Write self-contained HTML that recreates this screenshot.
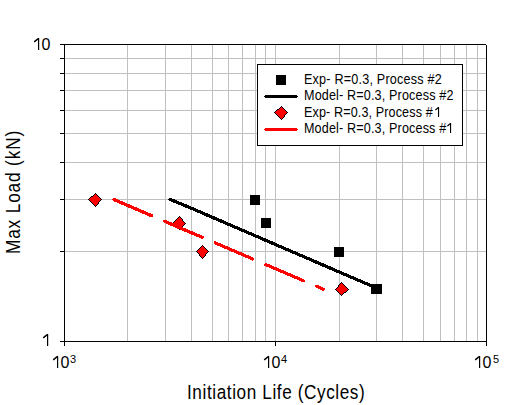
<!DOCTYPE html>
<html><head><meta charset="utf-8"><style>
html,body{margin:0;padding:0;background:#fff;width:525px;height:405px;overflow:hidden}
svg{display:block}
</style></head><body>
<svg width="525" height="405" viewBox="0 0 525 405">
<path d="M127.5 45V341M165.5 45V341M191.5 45V341M212.5 45V341M228.5 45V341M242.5 45V341M255.5 45V341M265.5 45V341M275.5 45V341M339.5 45V341M376.5 45V341M402.5 45V341M423.5 45V341M440.5 45V341M454.5 45V341M466.5 45V341M477.5 45V341M65 251.5H486M65 199.5H486M65 162.5H486M65 133.5H486M65 110.5H486M65 90.5H486M65 73.5H486M65 58.5H486" stroke="#c0c0c0" stroke-width="1" fill="none" shape-rendering="crispEdges"/>
<path d="M64.5 44V346M486.5 45V346M60 44.5H486M60 341.5H487M60 251.5H64M60 199.5H64M60 162.5H64M60 133.5H64M60 110.5H64M60 90.5H64M60 73.5H64M60 58.5H64M275.5 342V346" stroke="#000" stroke-width="1" fill="none" shape-rendering="crispEdges"/>
<rect x="250" y="195" width="10" height="10" fill="#000"/>
<rect x="261" y="218" width="10" height="10" fill="#000"/>
<rect x="334" y="247" width="10" height="10" fill="#000"/>
<rect x="371" y="284" width="11" height="10" fill="#000"/>
<polyline points="170,199.35 190.5,207.88 377,288.27" fill="none" stroke="#000" stroke-width="3.2" stroke-linecap="round" stroke-linejoin="round" shape-rendering="crispEdges"/>
<path d="M95 194h1v1h-1zM94 195h3v1h-3zM93 196h5v1h-5zM91 197h8v1h-8zM90 198h10v1h-10zM89 199h12v1h-12zM90 200h10v1h-10zM91 201h8v1h-8zM92 202h6v1h-6zM93 203h5v1h-5zM94 204h3v1h-3zM95 205h1v1h-1z" fill="#f00"/><path d="M95 193h1v1h-1zM94 194h1v1h-1zM96 194h1v1h-1zM93 195h1v1h-1zM97 195h1v1h-1zM91 196h1v1h-1zM92 196h1v1h-1zM98 196h1v1h-1zM90 197h1v1h-1zM99 197h1v1h-1zM89 198h1v1h-1zM100 198h1v1h-1zM88 199h1v1h-1zM101 199h1v1h-1zM89 200h1v1h-1zM100 200h1v1h-1zM90 201h1v1h-1zM99 201h1v1h-1zM91 202h1v1h-1zM98 202h1v1h-1zM92 203h1v1h-1zM98 203h1v1h-1zM93 204h1v1h-1zM97 204h1v1h-1zM94 205h1v1h-1zM96 205h1v1h-1zM95 206h1v1h-1z" fill="#000"/>
<path d="M179 217h1v1h-1zM178 218h3v1h-3zM177 219h5v1h-5zM176 220h6v1h-6zM175 221h8v1h-8zM174 222h10v1h-10zM173 223h12v1h-12zM174 224h10v1h-10zM175 225h8v1h-8zM177 226h5v1h-5zM178 227h3v1h-3zM179 228h1v1h-1z" fill="#f00"/><path d="M179 216h1v1h-1zM178 217h1v1h-1zM180 217h1v1h-1zM177 218h1v1h-1zM181 218h1v1h-1zM176 219h1v1h-1zM182 219h1v1h-1zM175 220h1v1h-1zM182 220h1v1h-1zM174 221h1v1h-1zM183 221h1v1h-1zM173 222h1v1h-1zM184 222h1v1h-1zM172 223h1v1h-1zM185 223h1v1h-1zM173 224h1v1h-1zM184 224h1v1h-1zM174 225h1v1h-1zM183 225h1v1h-1zM175 226h1v1h-1zM176 226h1v1h-1zM182 226h1v1h-1zM177 227h1v1h-1zM181 227h1v1h-1zM178 228h1v1h-1zM180 228h1v1h-1zM179 229h1v1h-1z" fill="#000"/>
<path d="M202 246h1v1h-1zM201 247h3v1h-3zM200 248h5v1h-5zM199 249h7v1h-7zM198 250h9v1h-9zM197 251h11v1h-11zM198 252h9v1h-9zM199 253h7v1h-7zM200 254h5v1h-5zM200 255h5v1h-5zM201 256h3v1h-3zM202 257h1v1h-1z" fill="#f00"/><path d="M202 245h1v1h-1zM201 246h1v1h-1zM203 246h1v1h-1zM200 247h1v1h-1zM204 247h1v1h-1zM199 248h1v1h-1zM205 248h1v1h-1zM198 249h1v1h-1zM206 249h1v1h-1zM197 250h1v1h-1zM207 250h1v1h-1zM196 251h1v1h-1zM208 251h1v1h-1zM197 252h1v1h-1zM207 252h1v1h-1zM198 253h1v1h-1zM206 253h1v1h-1zM199 254h1v1h-1zM205 254h1v1h-1zM199 255h1v1h-1zM205 255h1v1h-1zM200 256h1v1h-1zM204 256h1v1h-1zM201 257h1v1h-1zM203 257h1v1h-1zM202 258h1v1h-1z" fill="#000"/>
<path d="M341 283h1v1h-1zM340 284h3v1h-3zM339 285h5v1h-5zM339 286h6v1h-6zM338 287h8v1h-8zM337 288h10v1h-10zM336 289h12v1h-12zM337 290h10v1h-10zM338 291h8v1h-8zM339 292h5v1h-5zM340 293h3v1h-3zM341 294h1v1h-1z" fill="#f00"/><path d="M341 282h1v1h-1zM340 283h1v1h-1zM342 283h1v1h-1zM339 284h1v1h-1zM343 284h1v1h-1zM338 285h1v1h-1zM344 285h1v1h-1zM338 286h1v1h-1zM345 286h1v1h-1zM337 287h1v1h-1zM346 287h1v1h-1zM336 288h1v1h-1zM347 288h1v1h-1zM335 289h1v1h-1zM348 289h1v1h-1zM336 290h1v1h-1zM347 290h1v1h-1zM337 291h1v1h-1zM346 291h1v1h-1zM338 292h1v1h-1zM344 292h1v1h-1zM345 292h1v1h-1zM339 293h1v1h-1zM343 293h1v1h-1zM340 294h1v1h-1zM342 294h1v1h-1zM341 295h1v1h-1z" fill="#000"/>
<line x1="114" y1="199.59" x2="323" y2="289.04" stroke="#f00" stroke-width="3.2" stroke-linecap="round" stroke-dasharray="40.8 14.25" shape-rendering="crispEdges"/>
<rect x="257.5" y="64.5" width="205" height="81" fill="#fff" stroke="#000" stroke-width="1" shape-rendering="crispEdges"/>
<rect x="276" y="75" width="10" height="10" fill="#000"/>
<path d="M265 95h32v3h-32zM264 96h1v1h-1zM297 96h1v1h-1z" fill="#000"/>
<path d="M281 107h1v1h-1zM280 108h3v1h-3zM279 109h5v1h-5zM277 110h8v1h-8zM276 111h10v1h-10zM275 112h12v1h-12zM276 113h10v1h-10zM277 114h8v1h-8zM278 115h6v1h-6zM279 116h5v1h-5zM280 117h3v1h-3zM281 118h1v1h-1z" fill="#f00"/><path d="M281 106h1v1h-1zM280 107h1v1h-1zM282 107h1v1h-1zM279 108h1v1h-1zM283 108h1v1h-1zM277 109h1v1h-1zM278 109h1v1h-1zM284 109h1v1h-1zM276 110h1v1h-1zM285 110h1v1h-1zM275 111h1v1h-1zM286 111h1v1h-1zM274 112h1v1h-1zM287 112h1v1h-1zM275 113h1v1h-1zM286 113h1v1h-1zM276 114h1v1h-1zM285 114h1v1h-1zM277 115h1v1h-1zM284 115h1v1h-1zM278 116h1v1h-1zM284 116h1v1h-1zM279 117h1v1h-1zM283 117h1v1h-1zM280 118h1v1h-1zM282 118h1v1h-1zM281 119h1v1h-1z" fill="#000"/>
<path d="M265 128h32v3h-32zM264 129h1v1h-1zM297 129h1v1h-1z" fill="#f00"/>
<g transform="translate(304,84) scale(0.9,1)"><text x="0" y="0" font-family="Liberation Sans, sans-serif" font-size="14" textLength="153" lengthAdjust="spacing">Exp- R=0.3, Process #2</text></g>
<g transform="translate(304,100) scale(0.9,1)"><text x="0" y="0" font-family="Liberation Sans, sans-serif" font-size="14" textLength="166" lengthAdjust="spacing">Model- R=0.3, Process #2</text></g>
<g transform="translate(304,117) scale(0.9,1)"><text x="0" y="0" font-family="Liberation Sans, sans-serif" font-size="14" textLength="143" lengthAdjust="spacing">Exp- R=0.3, Process #</text></g>
<rect x="438" y="107" width="1.1" height="10" fill="#000"/><line x1="435.4" y1="110.0" x2="438.6" y2="107.4" stroke="#000" stroke-width="1.25"/>
<g transform="translate(304,133) scale(0.9,1)"><text x="0" y="0" font-family="Liberation Sans, sans-serif" font-size="14" textLength="158" lengthAdjust="spacing">Model- R=0.3, Process #</text></g>
<rect x="450" y="123" width="1.1" height="10" fill="#000"/><line x1="447.4" y1="126.0" x2="450.6" y2="123.4" stroke="#000" stroke-width="1.25"/>
<rect x="38" y="38" width="1.2" height="12" fill="#000"/><line x1="34.2" y1="41.9" x2="38.6" y2="38.4" stroke="#000" stroke-width="1.4"/>
<text x="41.6" y="50" font-family="Liberation Sans, sans-serif" font-size="16">0</text>
<rect x="47" y="334" width="1.2" height="12" fill="#000"/><line x1="43.2" y1="337.9" x2="47.6" y2="334.4" stroke="#000" stroke-width="1.4"/>
<rect x="57" y="356" width="1.2" height="12" fill="#000"/><line x1="53.2" y1="359.9" x2="57.6" y2="356.4" stroke="#000" stroke-width="1.4"/>
<text x="60.599999999999994" y="368" font-family="Liberation Sans, sans-serif" font-size="16">0</text>
<text x="70" y="363" font-family="Liberation Sans, sans-serif" font-size="11">3</text>
<rect x="268" y="356" width="1.2" height="12" fill="#000"/><line x1="264.2" y1="359.9" x2="268.6" y2="356.4" stroke="#000" stroke-width="1.4"/>
<text x="271.6" y="368" font-family="Liberation Sans, sans-serif" font-size="16">0</text>
<text x="281" y="363" font-family="Liberation Sans, sans-serif" font-size="11">4</text>
<rect x="479" y="356" width="1.2" height="12" fill="#000"/><line x1="475.2" y1="359.9" x2="479.6" y2="356.4" stroke="#000" stroke-width="1.4"/>
<text x="482.6" y="368" font-family="Liberation Sans, sans-serif" font-size="16">0</text>
<text x="493" y="363" font-family="Liberation Sans, sans-serif" font-size="11">5</text>
<g transform="translate(187,399) scale(0.88,1)"><text x="0" y="0" font-family="Liberation Sans, sans-serif" font-size="19.5" textLength="202" lengthAdjust="spacing">Initiation Life (Cycles)</text></g>
<g transform="translate(20,254) rotate(-90) scale(0.88,1)"><text x="0" y="0" font-family="Liberation Sans, sans-serif" font-size="19.5" textLength="140" lengthAdjust="spacing">Max Load (kN)</text></g>
</svg>
</body></html>
